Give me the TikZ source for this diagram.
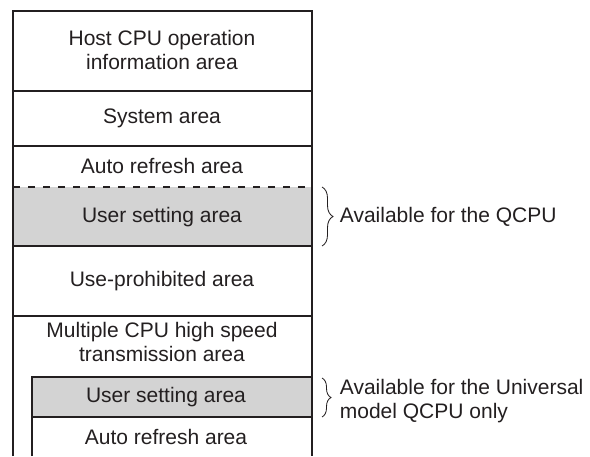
\documentclass[tikz,border=0pt]{standalone}
\usepackage{fontspec}
\setmainfont{Liberation Sans}
\usetikzlibrary{decorations.pathreplacing}

\definecolor{areagray}{HTML}{D3D3D3}
\definecolor{inkline}{HTML}{231F20}

\begin{document}
\begin{tikzpicture}[x=0.6pt,y=-0.6pt,
  area/.style={font=\fontsize{12.6}{14.6}\selectfont, align=center, text=inkline},
  note/.style={font=\fontsize{12.6}{14.6}\selectfont, align=left, anchor=west, text=inkline},
  brc/.style={decorate, decoration={brace,amplitude=#1}, line width=0.5pt, draw=inkline}]
\useasboundingbox (0,0) rectangle (590,456);
% grey user areas
\fill[areagray] (13,187) rectangle (312,246);
\fill[areagray] (32,377) rectangle (312,417);
% frame and dividers
\draw[line width=0.8pt, inkline] (13,456) -- (13,11) -- (312,11) -- (312,456);
\draw[line width=0.8pt, inkline] (13,91) -- (312,91);
\draw[line width=0.8pt, inkline] (13,146) -- (312,146);
\draw[line width=0.8pt, inkline, dash pattern=on 4.2pt off 4.8pt] (13,187) -- (312,187);
\draw[line width=0.8pt, inkline] (13,246) -- (312,246);
\draw[line width=0.8pt, inkline] (13,316) -- (312,316);
\draw[line width=0.8pt, inkline] (32,456) -- (32,377) -- (312,377);
\draw[line width=0.8pt, inkline] (32,417) -- (312,417);

\node[area] (host) at (162,50) {Host CPU operation\\information area};
\node[area] (sys) at (162,118) {System area};
\node[area] (auto1) at (162,166) {Auto refresh area};
\node[area] (user1) at (162,217) {User setting area};
\node[area] (prohib) at (162,281) {Use-prohibited area};
\node[area] (multi) at (162,342) {Multiple CPU high speed\\transmission area};
\node[area] (user2) at (166,397) {User setting area};
\node[area] (auto2) at (166,437) {Auto refresh area};

% braces and notes
\coordinate (b1top) at (322,187);
\coordinate (b1bot) at (322,246);
\coordinate (b2top) at (322,378);
\coordinate (b2bot) at (322,417);
\draw[brc=6.6pt] (b1top) -- (b1bot);
\draw[brc=5.4pt] (b2top) -- (b2bot);
\node[note] (qcpu) at (334,217) {Available for the QCPU};
\node[note] (univ) at (334,401) {Available for the Universal\\model QCPU only};
\end{tikzpicture}
\end{document}
